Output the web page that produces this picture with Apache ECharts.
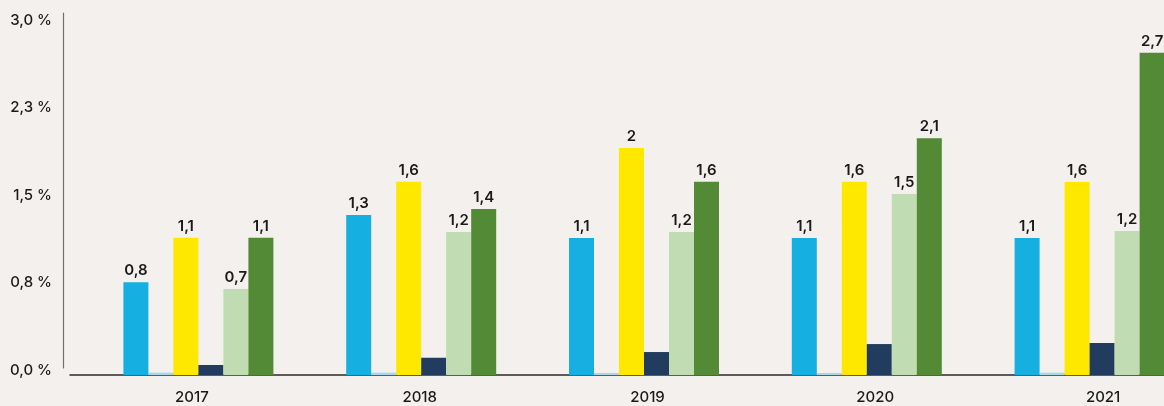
<!DOCTYPE html>
<html>
<head>
<meta charset="utf-8">
<script src="https://cdn.jsdelivr.net/npm/echarts@6/dist/echarts.min.js"></script>
<style>
    html, body { margin: 0; padding: 0; background: #f4f0ed; }
    #BarChart { width: 1164px; height: 406px; }
</style>
</head>
<body>
<div id="BarChart"></div>
<script>

var global = {};

// data (percent)
var years = ['2017', '2018', '2019', '2020', '2021'];

var blueValues = [0.78, 1.345, 1.151, 1.151, 1.151];
var paleBlueValues = [0.02, 0.02, 0.017, 0.017, 0.02];
var yellowValues = [1.154, 1.624, 1.908, 1.624, 1.622];
var navyValues = [0.084, 0.145, 0.193, 0.26, 0.269];
var paleGreenValues = [0.723, 1.202, 1.202, 1.521, 1.21];
var greenValues = [1.154, 1.395, 1.624, 1.99, 2.708];

// printed labels above the bars
var blueLabels = ['0,8', '1,3', '1,1', '1,1', '1,1'];
var yellowLabels = ['1,1', '1,6', '2', '1,6', '1,6'];
var paleGreenLabels = ['0,7', '1,2', '1,2', '1,5', '1,2'];
var greenLabels = ['1,1', '1,4', '1,6', '2,1', '2,7'];

var yTicks = { min: 0, max: 3, interval: 0.75 };

InitChart();

function BarSeries(name, color, values, labels) {

    return {
        name: name,
        type: 'bar',
        xAxisIndex: 0,
        yAxisIndex: 0,
        barWidth: 25,
        barGap: '0%',
        itemStyle: { color: color },
        label: {
            show: labels != null,
            position: 'top',
            distance: 4,
            fontFamily: 'Inter',
            fontSize: 15,
            fontWeight: 600,
            color: '#1a1a1a',
            formatter: function (p) {
                return labels ? labels[p.dataIndex] : '';
            }
        },
        data: values
    };
}

function InitChart() {

    global.BarChart = echarts.init(document.getElementById('BarChart'));

    var hidden = { show: false };

    global.BarChartOption = {
        backgroundColor: '#f4f0ed',
        animation: false,
        grid: [
            // bars (runs past the right edge, as in the original)
            { left: 87, width: 1114, top: 18, bottom: 31, outerBoundsMode: 'none' },
            // y axis line
            { left: 63, right: 0, top: 13, bottom: 38, outerBoundsMode: 'none' },
            // y axis labels
            { left: 63, right: 0, top: 20, bottom: 36, outerBoundsMode: 'none' },
            // x axis labels
            { left: 78, width: 1139, top: 18, bottom: 31, outerBoundsMode: 'none' },
            // x axis line
            { left: 70, right: 0, top: 18, bottom: 31, outerBoundsMode: 'none' }
        ],
        xAxis: [
            { gridIndex: 0, type: 'category', data: years, show: false },
            { gridIndex: 1, type: 'value', show: false },
            { gridIndex: 2, type: 'value', show: false },
            {
                gridIndex: 3,
                type: 'category',
                data: years,
                axisLine: hidden,
                axisTick: hidden,
                axisLabel: {
                    margin: 15,
                    fontFamily: 'Inter',
                    fontSize: 15,
                    fontWeight: 500,
                    color: '#1a1a1a'
                }
            },
            {
                gridIndex: 4,
                type: 'value',
                axisLine: { show: true, lineStyle: { color: '#2a2a2a', width: 1.5 } },
                axisTick: hidden,
                axisLabel: hidden,
                splitLine: hidden
            }
        ],
        yAxis: [
            { gridIndex: 0, type: 'value', min: yTicks.min, max: yTicks.max, show: false },
            {
                gridIndex: 1,
                type: 'value',
                axisLine: { show: true, lineStyle: { color: '#6f6f6f', width: 1.2 } },
                axisTick: hidden,
                axisLabel: hidden,
                splitLine: hidden
            },
            {
                gridIndex: 2,
                type: 'value',
                min: yTicks.min,
                max: yTicks.max,
                interval: yTicks.interval,
                axisLine: hidden,
                axisTick: hidden,
                splitLine: hidden,
                axisLabel: {
                    margin: 11,
                    fontFamily: 'Inter',
                    fontSize: 15,
                    fontWeight: 500,
                    color: '#1a1a1a',
                    formatter: function (v) {
                        return v.toFixed(1).replace('.', ',') + ' %';
                    }
                }
            },
            { gridIndex: 3, type: 'value', show: false },
            { gridIndex: 4, type: 'value', show: false }
        ],
        series: [
            BarSeries('blue', '#15afe2', blueValues, blueLabels),
            BarSeries('paleBlue', '#a8d7e6', paleBlueValues, null),
            BarSeries('yellow', '#ffe800', yellowValues, yellowLabels),
            BarSeries('navy', '#213c5f', navyValues, null),
            BarSeries('paleGreen', '#bfdcb2', paleGreenValues, paleGreenLabels),
            BarSeries('green', '#528a35', greenValues, greenLabels)
        ]
    };

    global.BarChart.setOption(global.BarChartOption);
}
</script>
</body>
</html>
